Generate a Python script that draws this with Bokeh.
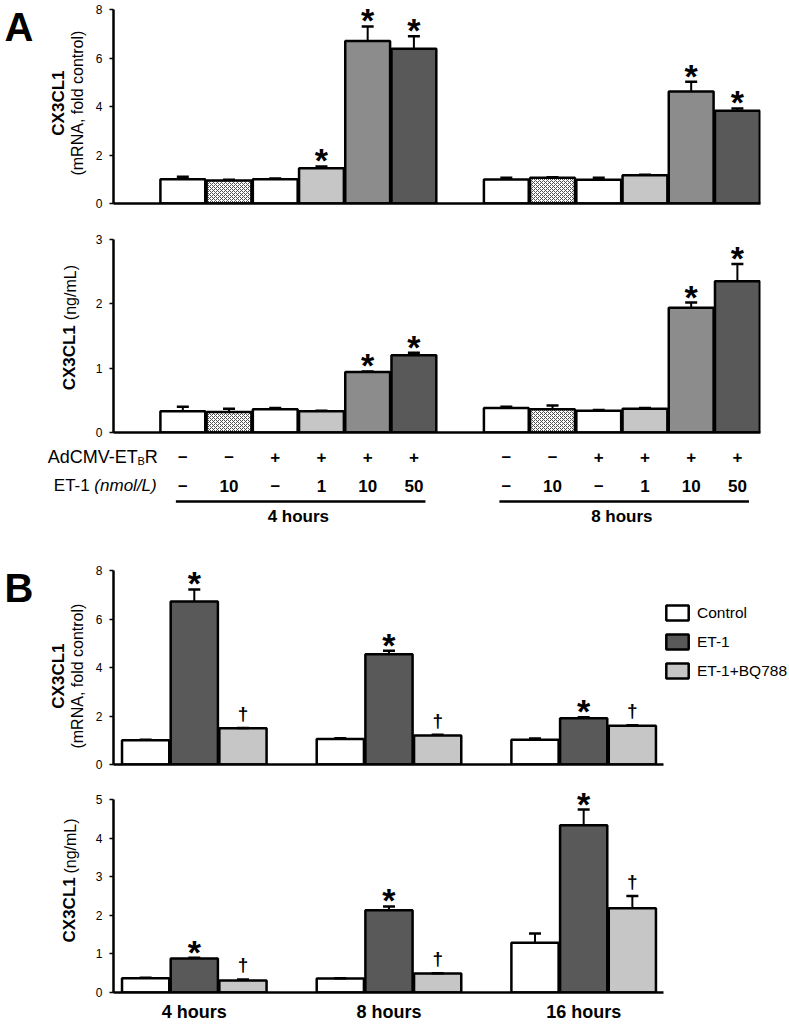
import math
from bokeh.plotting import figure
from bokeh.models import (ColumnDataSource, Range1d, FixedTicker, LabelSet, Legend, LegendItem,
                          CanvasTexture)
from bokeh.layouts import column, row
from bokeh.embed import file_html
from bokeh.resources import INLINE
from bokeh.core.properties import value

FONT = "Liberation Sans"

# ---------------- data : panel A ----------------
adcmv_row = ["–", "–", "+", "+", "+", "+"]
et1_row = ["–", "10", "–", "1", "10", "50"]
a_times = ["4 hours", "8 hours"]

a_mrna_4h = [1.00, 0.95, 1.00, 1.45, 6.70, 6.38]
a_mrna_4h_err = [0.10, 0.03, 0.03, 0.08, 0.60, 0.52]
a_mrna_8h = [0.99, 1.06, 0.98, 1.17, 4.62, 3.82]
a_mrna_8h_err = [0.07, 0.02, 0.08, 0.02, 0.40, 0.10]
a_mrna_4h_sig = ["", "", "", "*", "*", "*"]
a_mrna_8h_sig = ["", "", "", "", "*", "*"]

a_prot_4h = [0.33, 0.32, 0.36, 0.33, 0.94, 1.20]
a_prot_4h_err = [0.07, 0.05, 0.02, 0.01, 0.01, 0.04]
a_prot_8h = [0.38, 0.36, 0.34, 0.37, 1.94, 2.35]
a_prot_8h_err = [0.02, 0.06, 0.01, 0.01, 0.08, 0.27]
a_prot_4h_sig = ["", "", "", "", "*", "*"]
a_prot_8h_sig = ["", "", "", "", "*", "*"]

a_mrna_ticks = [0, 2, 4, 6, 8]
a_prot_ticks = [0, 1, 2, 3]

# ---------------- data : panel B ----------------
b_times = ["4 hours", "8 hours", "16 hours"]
b_series = ["Control", "ET-1", "ET-1+BQ788"]

b_mrna_control = [1.00, 1.05, 1.02]
b_mrna_control_err = [0.02, 0.03, 0.05]
b_mrna_et1 = [6.72, 4.55, 1.91]
b_mrna_et1_err = [0.50, 0.14, 0.04]
b_mrna_bq = [1.50, 1.20, 1.60]
b_mrna_bq_err = [0.01, 0.03, 0.02]

b_prot_control = [0.37, 0.36, 1.29]
b_prot_control_err = [0.01, 0.01, 0.24]
b_prot_et1 = [0.88, 2.13, 4.33]
b_prot_et1_err = [0.02, 0.10, 0.41]
b_prot_bq = [0.31, 0.49, 2.18]
b_prot_bq_err = [0.03, 0.01, 0.32]

b_control_sig = ["", "", ""]
b_et1_sig = ["*", "*", "*"]
b_bq_sig = ["†", "†", "†"]

b_mrna_ticks = [0, 2, 4, 6, 8]
b_prot_ticks = [0, 1, 2, 3, 4, 5]

# ---------------- styles ----------------
sparse_dots = CanvasTexture(code="""
ctx.fillStyle = '#8a8a8a';
ctx.fillRect(4, 4, 2, 2);
ctx.fillRect(12, 12, 2, 2);
""", repetition="repeat")

A_FILL = ["#ffffff", "#ffffff", "#ffffff", "#c6c6c6", "#8c8c8c", "#595959"]
A_HATCH = ["blank", "diagonal_cross", "sdots", "blank", "blank", "blank"]
A_HCOLOR = ["#000000", "#505050", "#8a8a8a", "#000000", "#000000", "#000000"]
A_HSCALE = [12, 4, 16, 12, 12, 12]
B_FILL = ["#ffffff", "#595959", "#c6c6c6"]

LW = 91          # width of the title strip left of each panel
PL = 22          # panel border left of the frame (tick labels)
TOTAL_W = 789


def make_fig(fw, fh, pad, xr, ymax, ticks, top, bottom, right):
    y_end = ymax + pad * ymax / fh
    p = figure(frame_width=fw, frame_height=fh + pad, x_range=Range1d(*xr),
               y_range=Range1d(0, y_end), min_border_left=PL, min_border_right=right,
               min_border_top=top - pad, min_border_bottom=bottom, output_backend="svg",
               toolbar_location=None, tools="")
    p.grid.visible = False
    p.outline_line_color = None
    ya = p.yaxis[0]
    ya.bounds = (0, ymax)
    ya.ticker = FixedTicker(ticks=ticks)
    ya.axis_line_width = 2.5
    ya.axis_line_color = "black"
    ya.major_tick_line_width = 1.5
    ya.major_tick_line_color = "black"
    ya.major_tick_out = 4
    ya.major_tick_in = 0
    ya.minor_tick_line_color = None
    ya.major_label_text_font = FONT
    ya.major_label_text_font_size = "12px"
    ya.major_label_text_color = "black"
    ya.major_label_standoff = 7
    xa = p.xaxis[0]
    xa.ticker = FixedTicker(ticks=[])
    xa.axis_line_width = 2.5
    xa.axis_line_color = "black"
    xa.major_tick_line_color = None
    xa.minor_tick_line_color = None
    return p


def text_fig(w, h, yr=None):
    p = figure(width=w, height=h, x_range=Range1d(0, w),
               y_range=Range1d(*(yr if yr else (0, h))), x_axis_type=None, y_axis_type=None,
               min_border=0, output_backend="svg", toolbar_location=None, tools="")
    p.grid.visible = False
    p.outline_line_color = None
    return p


def put_text(p, xs, ys, texts, size, style="normal", align="left", baseline="middle",
             angle=0.0, x_offset=0):
    p.text(x=xs, y=ys, text=texts, angle=angle, x_offset=x_offset, text_font=value(FONT),
           text_font_size=value(size), text_font_style=value(style), text_align=value(align),
           text_baseline=value(baseline), text_color="black")


def draw_bars(p, xs, tops, errs, fills, hatch, hcol, hscale, width):
    src = ColumnDataSource(dict(x=xs, top=tops, etop=[t + e for t, e in zip(tops, errs)],
                                fill=fills, hatch=hatch, hcolor=hcol, hscale=hscale))
    r = p.vbar(x="x", top="top", bottom=0, width=width, source=src, fill_color="fill",
               line_color="black", line_width=2.5, hatch_pattern="hatch",
               hatch_color="hcolor", hatch_scale="hscale", hatch_weight=1,
               hatch_extra={"sdots": sparse_dots})
    p.segment(x0="x", y0="top", x1="x", y1="etop", source=src, line_color="black", line_width=2)
    p.scatter(x="x", y="etop", source=src, marker="dash", size=12, line_color="black",
              line_width=2.5)
    return r


def draw_marks(p, xs, tops, errs, marks):
    ast = dict(x=[], y=[], t=[])
    dag = dict(x=[], y=[], t=[])
    for x, t, e, m in zip(xs, tops, errs, marks):
        if m == "*":
            ast["x"].append(x); ast["y"].append(t + e); ast["t"].append(m)
        elif m:
            dag["x"].append(x); dag["y"].append(t + e); dag["t"].append(m)
    if ast["x"]:
        p.add_layout(LabelSet(x="x", y="y", text="t", source=ColumnDataSource(ast),
                              text_align="center", text_baseline="alphabetic",
                              text_font=value(FONT), text_font_size=value("34px"),
                              text_font_style=value("bold"), text_color="black", y_offset=-6))
    if dag["x"]:
        p.add_layout(LabelSet(x="x", y="y", text="t", source=ColumnDataSource(dag),
                              text_align="center", text_baseline="alphabetic",
                              text_font=value(FONT), text_font_size=value("19px"),
                              text_font_style=value("bold"), text_color="black", y_offset=8))


# ---------------- panel A ----------------
na = len(adcmv_row)
a_xs = [(na + 1) * g + 1.5 + i for g in range(len(a_times)) for i in range(na)]
a_xr = (0, (na + 1) * len(a_times))
A_FW = 647
A_RIGHT = TOTAL_W - LW - PL - A_FW


def a_panel(fh, pad, ymax, ticks, top, bottom, v4, e4, v8, e8, s4, s8):
    p = make_fig(A_FW, fh, pad, a_xr, ymax, ticks, top, bottom, A_RIGHT)
    draw_bars(p, a_xs, v4 + v8, e4 + e8, A_FILL * 2, A_HATCH * 2, A_HCOLOR * 2, A_HSCALE * 2, 0.97)
    draw_marks(p, a_xs, v4 + v8, e4 + e8, s4 + s8)
    return p


# row A1 : canvas rows 0..211
pA1 = a_panel(194, 4, 8, a_mrna_ticks, 9, 8, a_mrna_4h, a_mrna_4h_err, a_mrna_8h, a_mrna_8h_err,
              a_mrna_4h_sig, a_mrna_8h_sig)
H1 = 9 + 194 + 8
tA1 = text_fig(LW, H1)
put_text(tA1, [4], [H1 - 23], ["A"], "40px", "bold", "left", "middle")
put_text(tA1, [57.5], [H1 - 104], ["CX3CL1"], "17px", "bold", "center", "middle", math.pi / 2)
put_text(tA1, [77], [H1 - 104], ["(mRNA, fold control)"], "16px", "normal", "center",
         "middle", math.pi / 2)

# row A2 : canvas rows 211..440
pA2 = a_panel(193, 8, 3, a_prot_ticks, 28, 8, a_prot_4h, a_prot_4h_err, a_prot_8h, a_prot_8h_err,
              a_prot_4h_sig, a_prot_8h_sig)
H2 = 28 + 193 + 8
tA2 = text_fig(LW, H2)
put_text(tA2, [69], [48], ["CX3CL1"], "17px", "bold", "left", "middle", math.pi / 2)
put_text(tA2, [70], [128], ["(ng/mL)"], "16px", "normal", "left", "middle", math.pi / 2)

# treatment table under panel A (x aligned with pA2's scale, y = px below the baseline)
TH = 98
k = (a_xr[1] - a_xr[0]) / A_FW
tx0 = a_xr[0] - (LW + PL) * k
tab = figure(width=TOTAL_W, height=TH, x_range=Range1d(tx0, tx0 + TOTAL_W * k),
             y_range=Range1d(-8 - TH, -8), x_axis_type=None, y_axis_type=None, min_border=0,
             output_backend="svg", toolbar_location=None, tools="")
tab.grid.visible = False
tab.outline_line_color = None
put_text(tab, a_xs, [-24] * len(a_xs), adcmv_row * len(a_times), "17px", "bold", "center")
put_text(tab, a_xs, [-53] * len(a_xs), et1_row * len(a_times), "17px", "bold", "center")
edge = a_xs[0] - 0.5
put_text(tab, [edge], [-24], ["R"], "18px", "normal", "right", "middle", x_offset=-2)
put_text(tab, [edge], [-28], ["B"], "11px", "normal", "right", "middle", x_offset=-15)
put_text(tab, [edge], [-24], ["AdCMV-ET"], "18px", "normal", "right", "middle", x_offset=-22)
put_text(tab, [edge], [-53], ["(nmol/L)"], "17px", "italic", "right", "middle", x_offset=-3)
put_text(tab, [edge], [-53], ["ET-1"], "17px", "normal", "right", "middle", x_offset=-70)
grp_centers, ul_left, ul_right = [], [], []
for g in range(len(a_times)):
    xs_g = a_xs[g * na:(g + 1) * na]
    grp_centers.append(sum(xs_g) / na)
    ul_left.append(xs_g[0] - 0.15)
    ul_right.append(xs_g[-1] + 0.25)
tab.quad(left=ul_left, right=ul_right, top=-67.75, bottom=-70.25, fill_color="black",
         line_color=None)
put_text(tab, grp_centers, [-84] * len(grp_centers), a_times, "17px", "bold", "center")

# ---------------- panel B ----------------
nb = len(b_series)
b_xr = (-0.66, (nb + 1) * len(b_times) - 1.36)
B_FW = 550
B_RIGHT = TOTAL_W - LW - PL - B_FW
b_centers = [(nb + 1) * g + 1 for g in range(len(b_times))]


def b_panel(fh, pad, ymax, ticks, top, bottom, vals, errs):
    p = make_fig(B_FW, fh, pad, b_xr, ymax, ticks, top, bottom, B_RIGHT)
    sigs = [b_control_sig, b_et1_sig, b_bq_sig]
    rs = []
    for s in range(nb):
        xs = [(nb + 1) * g + s for g in range(len(b_times))]
        rs.append(draw_bars(p, xs, vals[s], errs[s], [B_FILL[s]] * len(xs), ["blank"] * len(xs),
                            ["#000000"] * len(xs), [12] * len(xs), 0.97))
        draw_marks(p, xs, vals[s], errs[s], sigs[s])
    return p, rs


# row B1 : canvas rows 538..771
pB1, rB1 = b_panel(194, 8, 8, b_mrna_ticks, 32, 7, [b_mrna_control, b_mrna_et1, b_mrna_bq],
                   [b_mrna_control_err, b_mrna_et1_err, b_mrna_bq_err])
legend = Legend(items=[LegendItem(label=b_series[i], renderers=[rB1[i]]) for i in range(nb)],
                location=(0, 84), padding=0, margin=0, spacing=10, glyph_width=28,
                glyph_height=19, label_height=19, label_standoff=6, border_line_color=None,
                background_fill_alpha=0, label_text_font=FONT, label_text_font_size="15.5px",
                label_text_color="black")
pB1.add_layout(legend, "right")
H4 = 32 + 194 + 7
tB1 = text_fig(LW, H4)
put_text(tB1, [4], [H4 - 29], ["B"], "40px", "bold", "left", "middle")
put_text(tB1, [57.5], [H4 - 131], ["CX3CL1"], "17px", "bold", "center", "middle", math.pi / 2)
put_text(tB1, [77], [H4 - 131], ["(mRNA, fold control)"], "16px", "normal", "center",
         "middle", math.pi / 2)

# row B2 : canvas rows 771..1022
pB2, rB2 = b_panel(193, 10, 5, b_prot_ticks, 28, 30, [b_prot_control, b_prot_et1, b_prot_bq],
                   [b_prot_control_err, b_prot_et1_err, b_prot_bq_err])
xb = pB2.xaxis[0]
xb.ticker = FixedTicker(ticks=b_centers)
xb.major_label_overrides = {c: t for c, t in zip(b_centers, b_times)}
xb.major_tick_out = 0
xb.major_tick_in = 0
xb.major_label_standoff = 9
xb.major_label_text_font = FONT
xb.major_label_text_font_size = "18px"
xb.major_label_text_font_style = "bold"
xb.major_label_text_color = "black"
H5 = 28 + 193 + 30
tB2 = text_fig(LW, H5)
put_text(tB2, [69], [30 + 30], ["CX3CL1"], "17px", "bold", "left", "middle", math.pi / 2)
put_text(tB2, [70], [30 + 116], ["(ng/mL)"], "16px", "normal", "left", "middle", math.pi / 2)

layout = column(row(tA1, pA1, spacing=0), row(tA2, pA2, spacing=0), tab,
                row(tB1, pB1, spacing=0), row(tB2, pB2, spacing=0), spacing=0)
open("out.html", "w").write(file_html(layout, INLINE))
